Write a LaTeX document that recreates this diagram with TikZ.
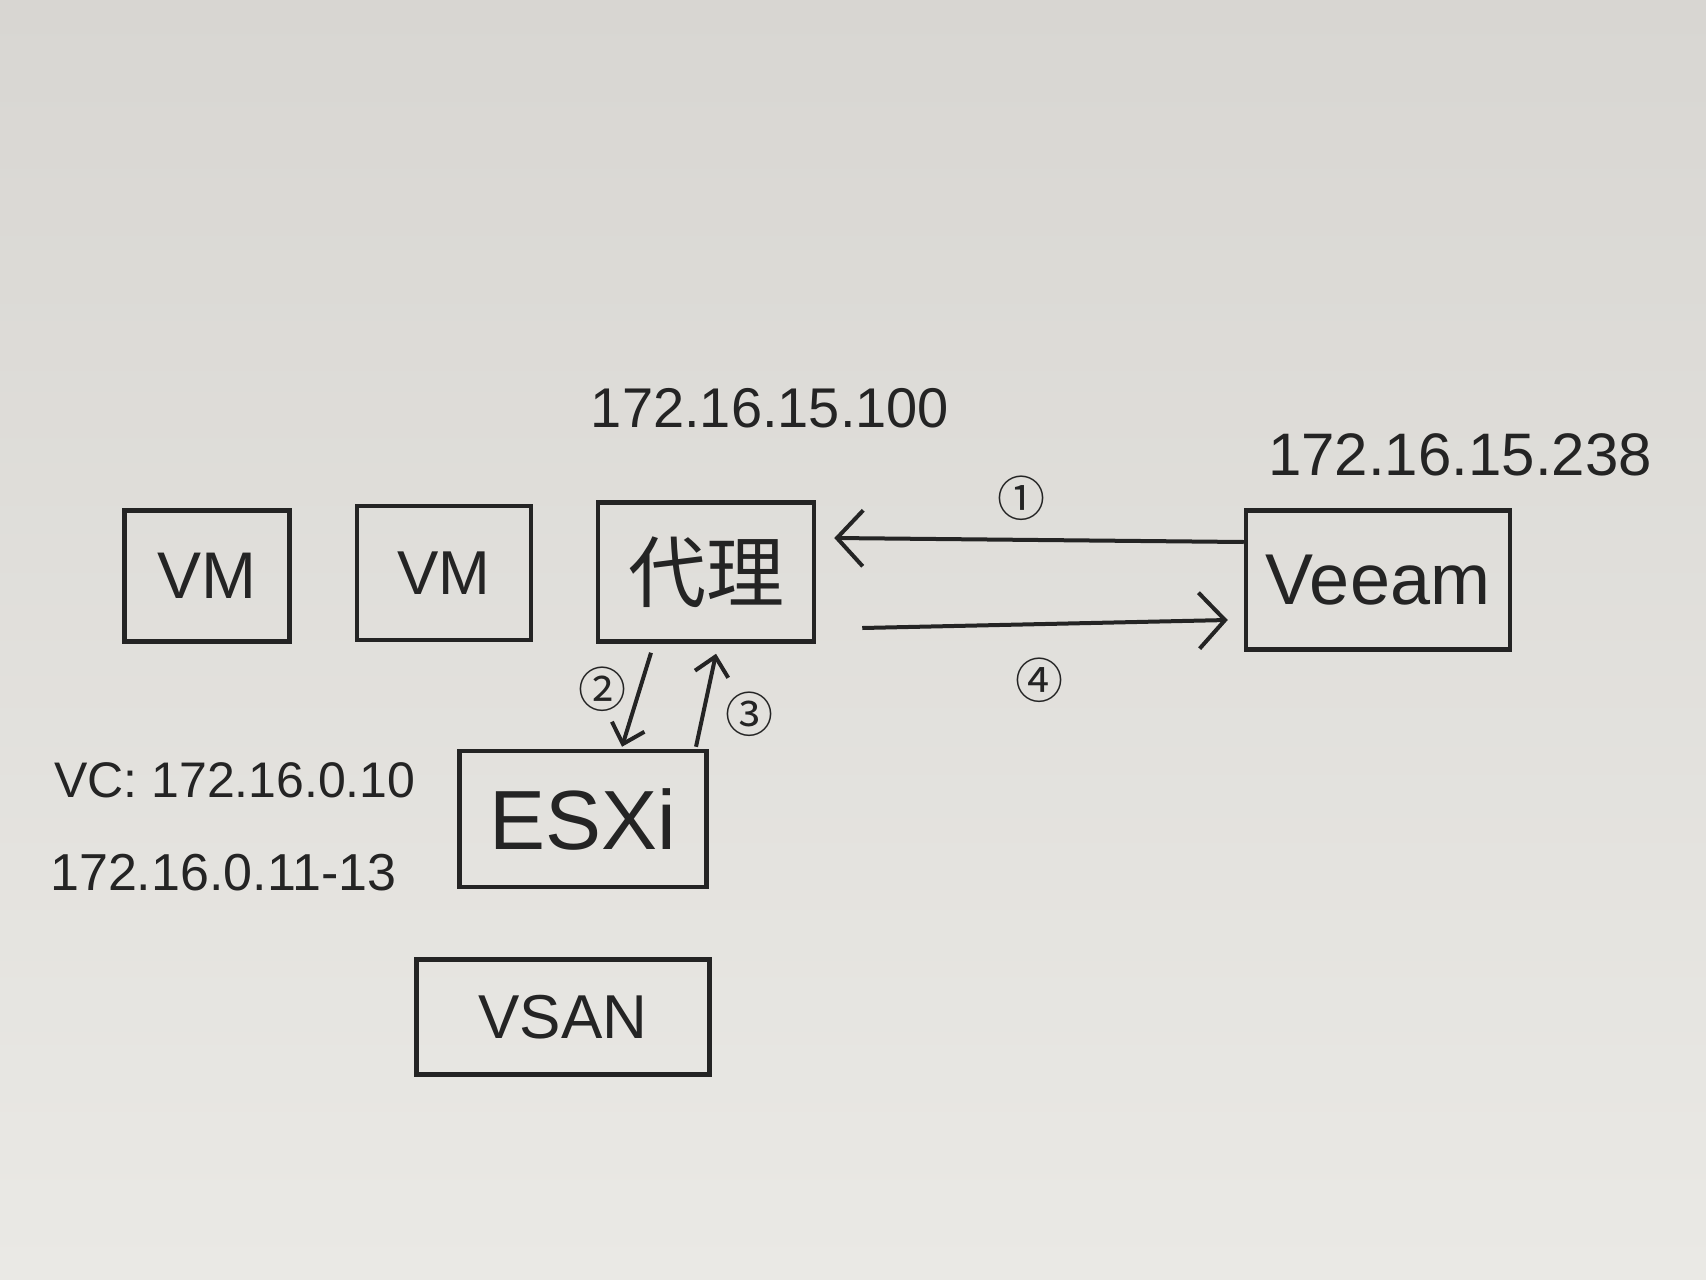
\documentclass[tikz,border=0pt]{standalone}
\usepackage{fontspec}
\setmainfont{Liberation Sans}
\newfontfamily\cjk{Noto Sans CJK SC}
\usetikzlibrary{arrows.meta}
\definecolor{paperlight}{HTML}{EAE9E5}
\definecolor{paperdark}{HTML}{D8D6D2}
\definecolor{ink}{HTML}{242424}
\tikzset{
  box/.style={draw=ink, line width=4.5pt, rectangle, inner sep=0pt, text=ink},
  arr/.style={draw=ink, line width=4pt, -{Straight Barb[length=26pt,width=56pt,line width=4pt]}},
  arrsmall/.style={draw=ink, line width=4pt, -{Straight Barb[length=18pt,width=34pt,line width=4pt]}},
  lbl/.style={text=ink, inner sep=0pt},
  circ/.style={text=ink, inner sep=0pt, font=\cjk\fontsize{48}{52}\selectfont},
}
\begin{document}
\begin{tikzpicture}[x=1pt,y=1pt]
\useasboundingbox (0,0) rectangle (1706,-1280);
\shade[top color=paperdark, bottom color=paperlight] (0,0) rectangle (1706,-1280);

% boxes
\node[box, minimum width=165pt, minimum height=131pt, font=\fontsize{66}{70}\selectfont] (vm1) at (207,-576) {VM};
\node[box, minimum width=174pt, minimum height=134pt, font=\fontsize{62}{66}\selectfont] (vm2) at (444,-573) {VM};
\node[box, minimum width=216pt, minimum height=139pt, font=\cjk\fontsize{78}{82}\selectfont] (daili) at (706,-572) {代理};
\node[box, minimum width=264pt, minimum height=139pt, font=\fontsize{72}{76}\selectfont] (veeam) at (1378,-580) {Veeam};
\node[box, minimum width=247pt, minimum height=136pt, font=\fontsize{84}{88}\selectfont] (esxi) at (583,-819) {ESXi};
\node[box, minimum width=293pt, minimum height=115pt, font=\fontsize{62}{66}\selectfont] (vsan) at (563,-1017) {VSAN};

% ip labels
\node[lbl, font=\fontsize{56}{60}\selectfont] (ip1) at (770,-408) {172.16.15.100};
\node[lbl, font=\fontsize{60}{64}\selectfont] (ip2) at (1460,-455) {172.16.15.238};
\node[lbl, anchor=west, font=\fontsize{50}{54}\selectfont] (vc1) at (54,-780) {VC: 172.16.0.10};
\node[lbl, anchor=west, font=\fontsize{52}{56}\selectfont] (vc2) at (50,-873) {172.16.0.11-13};

% arrows
\draw[arr] ([yshift=38pt]veeam.west) -- ([xshift=18pt,yshift=34pt]daili.east);
\draw[arr] ([xshift=46pt,yshift=-56pt]daili.east) -- ([xshift=-16pt,yshift=-40pt]veeam.west);
\draw[arrsmall] ([xshift=-55pt,yshift=-9pt]daili.south) -- ([xshift=39pt,yshift=2pt]esxi.north);
\draw[arrsmall] ([xshift=113pt,yshift=2pt]esxi.north) -- ([xshift=10pt,yshift=-10pt]daili.south);

% step labels
\node[circ] (s1) at (1021,-498) {①};
\node[circ] (s4) at (1039,-680) {④};
\node[circ] (s2) at (602,-689) {②};
\node[circ] (s3) at (749,-714) {③};
\end{tikzpicture}
\end{document}
